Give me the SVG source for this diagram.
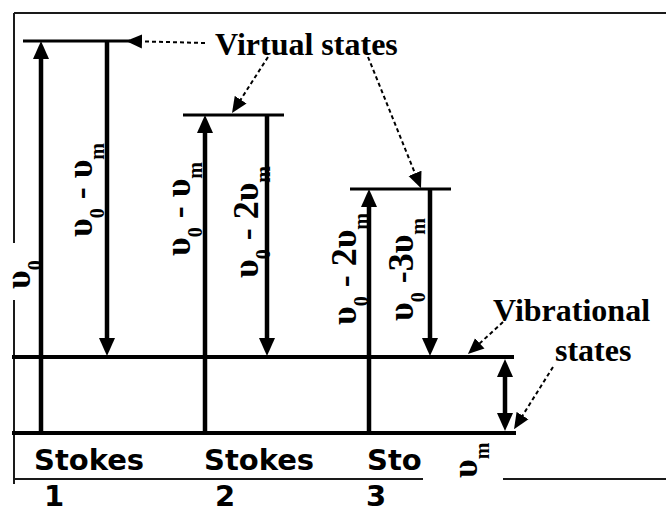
<svg xmlns="http://www.w3.org/2000/svg" width="666" height="508" viewBox="0 0 666 508">
<style>
.frame{stroke:#1a1a1a;stroke-width:2;fill:none}
.lvl{stroke:#000;stroke-width:4;fill:none}
.vl{stroke:#000;stroke-width:3;fill:none}
.arr{stroke:#000;stroke-width:4.5;fill:none;marker-end:url(#ah)}
.dbl{stroke:#000;stroke-width:4.5;fill:none;marker-start:url(#ah2);marker-end:url(#ah2)}
.dash{stroke:#000;stroke-width:2;stroke-dasharray:4 3;fill:none;marker-end:url(#dh)}
.serif{font-family:"Liberation Serif","Times New Roman",serif;font-weight:bold;fill:#000}
.lab{font-size:32px}
.sym{font-size:36px}
.sb{font-size:20px}
.sans{font-family:"DejaVu Sans","Liberation Sans",sans-serif;font-weight:bold;font-size:29px;fill:#000}
</style>
<defs>
<marker id="ah" viewBox="0 -9 18 18" markerWidth="18" markerHeight="18" refX="8" refY="0" orient="auto" markerUnits="userSpaceOnUse"><path d="M0,-8 L18,0 L0,8 Z" fill="#000"/></marker>
<marker id="ah2" viewBox="0 -9 18 18" markerWidth="18" markerHeight="18" refX="8" refY="0" orient="auto-start-reverse" markerUnits="userSpaceOnUse"><path d="M0,-8 L18,0 L0,8 Z" fill="#000"/></marker>
<marker id="dh" viewBox="0 -8 16 16" markerWidth="16" markerHeight="16" refX="4" refY="0" orient="auto" markerUnits="userSpaceOnUse"><path d="M0,-7 L16,0 L0,7 Z" fill="#000"/></marker>
</defs>
<rect width="666" height="508" fill="#fff"/>
<g id="frame">
<path class="frame" d="M14,13 H666 M14,13 V243 M14,300 V484 M14,479 H423 M503,479 H666"/>
</g>
<g id="levels">
<line id="virtual-1" class="vl" x1="23" y1="41" x2="130" y2="41"/>
<line id="virtual-2" class="vl" x1="183" y1="115" x2="284" y2="115"/>
<line id="virtual-3" class="vl" x1="350" y1="189" x2="451" y2="189"/>
<line id="vib-upper" class="lvl" x1="12" y1="357" x2="514" y2="357"/>
<line id="vib-ground" class="lvl" x1="12" y1="433" x2="516" y2="433"/>
</g>
<g id="connectors">
<path class="arr" d="M41,435 V51"/>
<path class="arr" d="M205,435 V125"/>
<path class="arr" d="M369,435 V199"/>
<path class="arr" d="M107,41 V346"/>
<path class="arr" d="M267,115 V346"/>
<path class="arr" d="M430,189 V346"/>
<path class="dbl" d="M505,369 V421"/>
<path class="dash" d="M205,43 L138,41.3"/>
<path class="dash" d="M268,57 L238.5,103"/>
<path class="dash" d="M368,57 L416.5,177"/>
<path class="dash" d="M503,322 L476.8,346"/>
<path class="dash" d="M553,367 L520.4,419"/>
</g>
<g id="label-virtual"><text class="serif lab" x="215" y="55">Virtual states</text></g>
<g id="label-vibrational">
<text class="serif lab" x="493" y="321">Vibrational</text>
<text class="serif lab" x="555" y="361">states</text>
</g>
<g id="label-v0"><text class="serif sym" xml:space="preserve" transform="translate(30,289) rotate(-90)">υ<tspan class="sb" dy="12">0</tspan></text></g>
<g id="label-a"><text class="serif sym" xml:space="preserve" transform="translate(92,237) rotate(-90)">υ<tspan class="sb" dy="12">0</tspan><tspan dy="-12"> - υ</tspan><tspan class="sb" dy="12">m</tspan></text></g>
<g id="label-b"><text class="serif sym" xml:space="preserve" transform="translate(190,256) rotate(-90)">υ<tspan class="sb" dy="12">0</tspan><tspan dy="-12"> - υ</tspan><tspan class="sb" dy="12">m</tspan></text></g>
<g id="label-c"><text class="serif sym" xml:space="preserve" transform="translate(258,278) rotate(-90)">υ<tspan class="sb" dy="12">0</tspan><tspan dy="-12"> - 2υ</tspan><tspan class="sb" dy="12">m</tspan></text></g>
<g id="label-d"><text class="serif sym" xml:space="preserve" transform="translate(356,325) rotate(-90)">υ<tspan class="sb" dy="12">0</tspan><tspan dy="-12"> - 2υ</tspan><tspan class="sb" dy="12">m</tspan></text></g>
<g id="label-e"><text class="serif sym" xml:space="preserve" transform="translate(413,321) rotate(-90)">υ<tspan class="sb" dy="12">0</tspan><tspan dy="-12"> -3υ</tspan><tspan class="sb" dy="12">m</tspan></text></g>
<g id="label-vm"><text class="serif sym" xml:space="preserve" transform="translate(477,478) rotate(-90)">υ<tspan class="sb" dy="12">m</tspan></text></g>
<g id="label-stokes">
<text class="sans" x="34" y="470">Stokes</text>
<text class="sans" x="204" y="470">Stokes</text>
<text class="sans" x="367" y="470">Sto</text>
<text class="sans" x="44" y="506">1</text>
<text class="sans" x="215" y="506">2</text>
<text class="sans" x="366" y="506">3</text>
</g>
</svg>
